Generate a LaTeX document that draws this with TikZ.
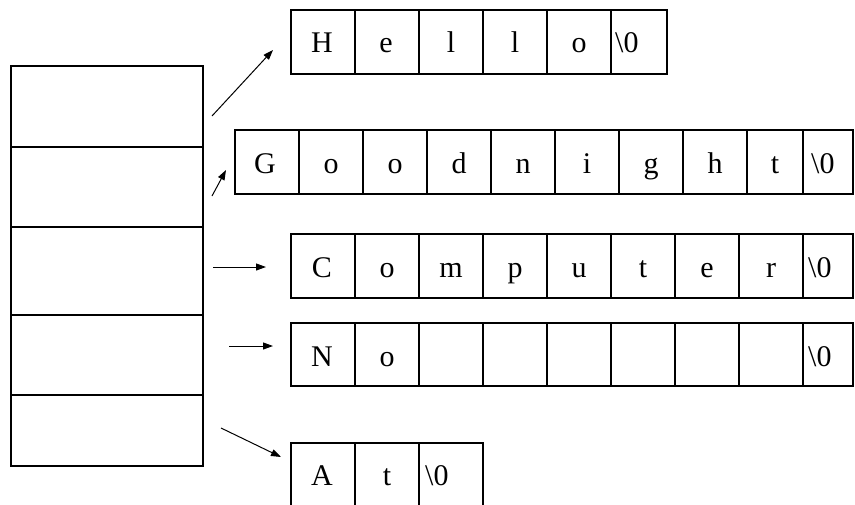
\documentclass[tikz,border=0pt]{standalone}
\usepackage{fontspec}
\setmainfont{Liberation Serif}
\usetikzlibrary{arrows.meta}
\begin{document}
\begin{tikzpicture}[x=1pt,y=-1pt,
  frame/.style={draw, line width=1.2pt, inner sep=0pt, outer sep=0pt},
  divider/.style={line width=1.7pt},
  glyph/.style={anchor=base, inner sep=0pt, font=\fontsize{30}{34}\selectfont},
  nul/.style={glyph, anchor=base west},
  ptr/.style={line width=1pt, -{Triangle[length=10pt,width=7pt]}}]
\useasboundingbox (0,0) rectangle (855,504);

% array of pointers
\node[frame, minimum width=192pt, minimum height=400pt] (stack) at (107,266) {};
\foreach \y in {147,227,315,395} \draw[divider] (11,\y) -- (203,\y);

% "Hello"
\node[frame, minimum width=376pt, minimum height=64pt] (hello) at (479,42) {};
\foreach \x in {355,419,483,547,611} \draw[divider] (\x,10) -- (\x,74);
\foreach \c/\x in {H/322,e/386,l/451,l/515,o/579}
  \node[glyph] (hello-\x) at (\x,52) {\c};
\node[nul] (hello-nul) at (615,52) {\textbackslash 0};

% "Goodnight"
\node[frame, minimum width=618pt, minimum height=64pt] (goodnight) at (544,162) {};
\foreach \x in {299,363,427,491,555,619,683,747,803} \draw[divider] (\x,130) -- (\x,194);
\foreach \c/\x in {G/265,o/331,o/395,d/459,n/523,i/587,g/651,h/715,t/775}
  \node[glyph] (goodnight-\x) at (\x,173) {\c};
\node[nul] (goodnight-nul) at (811,173) {\textbackslash 0};

% "Computer"
\node[frame, minimum width=562pt, minimum height=64pt] (computer) at (572,266) {};
\foreach \x in {355,419,483,547,611,675,739,803} \draw[divider] (\x,234) -- (\x,298);
\foreach \c/\x in {C/322,o/387,m/451,p/515,u/579,t/643,e/707,r/771}
  \node[glyph] (computer-\x) at (\x,277) {\c};
\node[nul] (computer-nul) at (808,277) {\textbackslash 0};

% "No"
\node[frame, minimum width=562pt, minimum height=63pt] (no) at (572,354.5) {};
\foreach \x in {355,419,483,547,611,675,739,803} \draw[divider] (\x,323) -- (\x,386);
\foreach \c/\x in {N/322,o/387}
  \node[glyph] (no-\x) at (\x,366) {\c};
\node[nul] (no-nul) at (808,366) {\textbackslash 0};

% "At"
\node[frame, minimum width=192pt, minimum height=64pt] (at) at (387,475) {};
\foreach \x in {355,419} \draw[divider] (\x,443) -- (\x,507);
\foreach \c/\x in {A/322,t/387}
  \node[glyph] (at-\x) at (\x,485) {\c};
\node[nul] (at-nul) at (425,485) {\textbackslash 0};

% pointers
\coordinate (p1) at (212,116); \coordinate (q1) at (273,50);
\coordinate (p2) at (212,196); \coordinate (q2) at (226,170);
\coordinate (p3) at (213,267); \coordinate (q3) at (266,267);
\coordinate (p4) at (229,346); \coordinate (q4) at (273,346);
\coordinate (p5) at (221,428); \coordinate (q5) at (281,457);
\foreach \i in {1,...,5} \draw[ptr] (p\i) -- (q\i);
\end{tikzpicture}
\end{document}
